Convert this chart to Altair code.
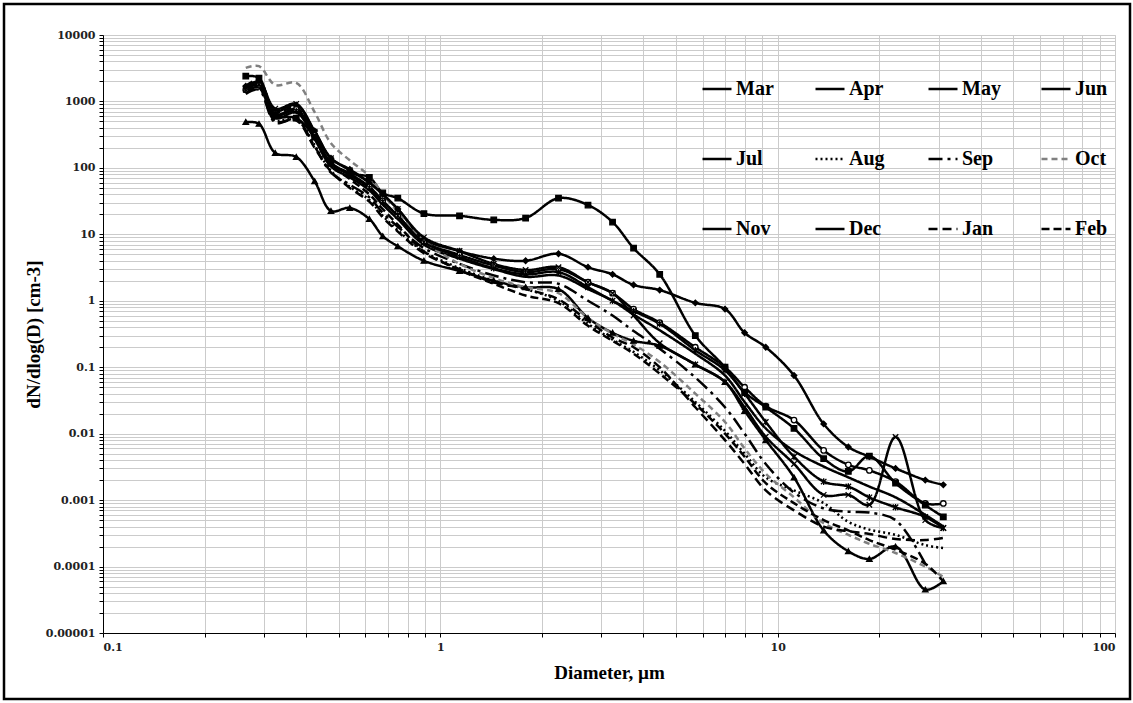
import altair as alt
import pandas as pd

# Particle diameter bin midpoints (um)
diam = [0.265, 0.29, 0.324, 0.374, 0.424, 0.474, 0.539, 0.616, 0.675, 0.748,
        0.894, 1.14, 1.44, 1.79, 2.24, 2.74, 3.24, 3.74, 4.47, 5.70,
        6.98, 7.98, 9.22, 11.18, 13.69, 16.2, 18.7, 22.36, 27.39, 30.98]

months = ["Mar", "Apr", "May", "Jun", "Jul", "Aug", "Sep", "Oct", "Nov", "Dec", "Jan", "Feb"]

mar = [1700, 1950, 720, 880, 360, 140, 95, 60, 40, 24, 8.5, 5.6, 4.3, 4.0, 5.1, 3.2, 2.5, 1.73, 1.45, 0.93,
       0.75, 0.33, 0.2, 0.075, 0.014, 0.0063, 0.0045, 0.003, 0.002, 0.0017]
apr = [1500, 1800, 640, 760, 310, 120, 82, 52, 32, 19, 7.8, 4.9, 3.4, 2.7, 3.0, 1.9, 1.3, 0.75, 0.47, 0.2,
       0.1, 0.05, 0.026, 0.016, 0.0056, 0.0034, 0.0028, 0.0019, 0.00089, 0.00089]
may = [2400, 2250, 620, 560, 290, 117, 83, 72, 42, 35, 20.5, 19, 16.5, 17.6, 35, 27.6, 15.3, 6.2, 2.5, 0.3,
       0.1, 0.042, 0.025, 0.012, 0.0042, 0.0027, 0.0046, 0.0018, 0.00084, 0.00056]
jun = [1400, 1650, 560, 680, 270, 105, 72, 46, 28, 17, 7.0, 4.3, 3.0, 2.3, 2.4, 1.5, 1.0, 0.62, 0.36, 0.16,
       0.075, 0.03, 0.012, 0.0055, 0.0032, 0.0022, 0.0016, 0.0011, 0.0006, 0.0004]
jul = [490, 460, 168, 146, 63, 22.5, 25, 17, 9.4, 6.6, 4.0, 2.8, 2.0, 1.6, 1.5, 0.55, 0.33, 0.25, 0.21, 0.11,
       0.06, 0.022, 0.008, 0.0022, 0.00035, 0.00017, 0.00013, 0.0002, 0.000045, 0.00006]
aug = [1500, 1700, 520, 560, 220, 90, 52, 33, 19, 11.5, 5.5, 3.1, 2.0, 1.5, 1.0, 0.45, 0.26, 0.17, 0.09, 0.03,
       0.011, 0.005, 0.0022, 0.0014, 0.0009, 0.00047, 0.00036, 0.0003, 0.00021, 0.00019]
sep = [1300, 1500, 480, 540, 210, 85, 56, 36, 21, 13, 6.2, 3.6, 2.4, 1.9, 1.8, 1.0, 0.6, 0.35, 0.19, 0.07,
       0.025, 0.01, 0.0035, 0.0013, 0.00075, 0.00067, 0.00065, 0.0005, 0.00011, None]
oct_ = [3200, 3400, 1770, 1900, 690, 235, 130, 75, 40, 22, 8, 3.6, 2.2, 1.6, 1.3, 0.55, 0.32, 0.22, 0.12, 0.04,
        0.015, 0.006, 0.0025, 0.0011, 0.00045, 0.0003, 0.00022, 0.00016, 0.0001, 0.00007]
nov = [1600, 2000, 780, 920, 350, 140, 92, 60, 40, 24, 9, 5.6, 3.6, 2.9, 3.2, 1.9, 1.3, 0.6, 0.23, 0.11,
       0.06, 0.025, 0.009, 0.0035, 0.0012, 0.0012, 0.00085, 0.0089, 0.0005, 0.00038]
dec = [1500, 1850, 620, 720, 290, 115, 78, 50, 31, 19, 7.6, 4.6, 3.1, 2.5, 2.7, 1.6, 1.0, 0.7, 0.45, 0.18,
       0.09, 0.04, 0.015, 0.0045, 0.0019, 0.0016, 0.0011, 0.00078, 0.00056, 0.00038]
jan = [1350, 1600, 500, 520, 200, 88, 50, 31, 18, 11, 5.2, 3.0, 1.9, 1.5, 1.05, 0.5, 0.28, 0.2, 0.1, 0.025,
       0.008, 0.0035, 0.0014, 0.0007, 0.0004, 0.00034, 0.00031, 0.00026, 0.00025, 0.00027]
feb = [1700, 2100, 700, 800, 300, 110, 68, 40, 24, 14, 5.5, 2.9, 1.8, 1.2, 0.92, 0.42, 0.25, 0.16, 0.08, 0.028,
       0.01, 0.0045, 0.0018, 0.0009, 0.0005, 0.00035, 0.00025, 0.00018, 0.00011, 0.00006]

series = [mar, apr, may, jun, jul, aug, sep, oct_, nov, dec, jan, feb]

rows = []
for m, vals in zip(months, series):
    for d, v in zip(diam, vals):
        if v is not None:
            rows.append({"month": m, "D": d, "N": v})
df = pd.DataFrame(rows)

# styles
colors = ["#000000"] * 7 + ["#808080"] + ["#000000"] * 4
widths = [2.5, 2.5, 2.5, 2.5, 2.5, 2.2, 2.5, 1.2, 2.2, 2.2, 2.6, 1.2]
dashes = [[1, 0], [1, 0], [1, 0], [1, 0], [1, 0], [2, 3], [14, 5, 3, 5], [6, 4],
          [1, 0], [1, 0], [9, 5], [8, 4]]

marker_months = ["Mar", "Apr", "May", "Jul", "Nov", "Dec"]
marker_shapes = ["diamond", "circle", "square", "triangle-up",
                 "M-1,-1L1,1M-1,1L1,-1",
                 "M-1,-1L1,1M-1,1L1,-1M0,-1.2L0,1.2"]
marker_fill = ["#000000", "#ffffff", "#000000", "#000000", "#000000", "#000000"]
marker_size = [30, 30, 60, 50, 40, 40]

xvals = [m * 10 ** e for e in range(-1, 2) for m in range(1, 10)] + [100]
yvals = [m * 10 ** e for e in range(-5, 4) for m in range(1, 10)] + [10000]
major_expr = ("abs(log(datum.value)/LN10 - round(log(datum.value)/LN10)) < 0.001 "
              "? format(datum.value, '~g') : ''")

leg = alt.Legend(title=None, orient="none", legendX=598, legendY=38, columns=4,
                 direction="horizontal",
                 symbolType="stroke", symbolSize=841, labelFont="Liberation Serif",
                 labelFontSize=20, labelFontWeight="bold", labelColor="#000000",
                 rowPadding=44, columnPadding=35, gridAlign="all", labelOffset=3,
                 padding=0, labelLimit=200)

xenc = alt.X("D:Q", scale=alt.Scale(type="log", domain=[0.1, 100], nice=False),
             axis=alt.Axis(values=xvals, labelExpr=major_expr, title="Diameter, µm",
                           grid=True, gridColor="#cbcbcb", gridWidth=1,
                           domainColor="#000000", tickColor="#000000", tickSize=4,
                           labelFont="DejaVu Serif", labelFontSize=11, labelFontWeight="bold",
                           labelColor="#222222", labelPadding=4, labelOverlap=False,
                           titleFont="Liberation Serif", titleFontSize=19,
                           titleFontWeight="bold", titleColor="#000000",
                           titleY=39, titleBaseline="middle"))
yenc = alt.Y("N:Q", scale=alt.Scale(type="log", domain=[0.00001, 10000], nice=False),
             axis=alt.Axis(values=yvals, labelExpr=major_expr, title="dN/dlog(D) [cm-3]",
                           grid=True, gridColor="#cbcbcb", gridWidth=1,
                           domainColor="#000000", tickColor="#000000", tickSize=4,
                           labelFont="DejaVu Serif", labelFontSize=11, labelFontWeight="bold",
                           labelColor="#222222", labelPadding=4, labelOverlap=False,
                           titleFont="Liberation Serif", titleFontSize=19,
                           titleFontWeight="bold", titleColor="#000000",
                           titleX=-70, titleY=299, titleAngle=-90,
                           titleAlign="center", titleBaseline="middle"))

base = alt.Chart(df)

lines = base.mark_line(interpolate="catmull-rom").encode(
    x=xenc, y=yenc,
    color=alt.Color("month:N", scale=alt.Scale(domain=months, range=colors), legend=leg),
    strokeDash=alt.StrokeDash("month:N", scale=alt.Scale(domain=months, range=dashes), legend=leg),
    strokeWidth=alt.StrokeWidth("month:N", scale=alt.Scale(domain=months, range=widths), legend=leg),
    order="D:Q",
)

points = base.transform_filter(
    alt.FieldOneOfPredicate(field="month", oneOf=marker_months)
).mark_point(filled=True, opacity=1, stroke="#000000", strokeWidth=1.3).encode(
    x="D:Q", y="N:Q",
    shape=alt.Shape("month:N", scale=alt.Scale(domain=marker_months, range=marker_shapes), legend=None),
    fill=alt.Fill("month:N", scale=alt.Scale(domain=marker_months, range=marker_fill), legend=None),
    size=alt.Size("month:N", scale=alt.Scale(domain=marker_months, range=marker_size), legend=None),
)

border = alt.Chart(pd.DataFrame({"a": [0]})).mark_rect(
    fill=None, stroke="#000000", strokeWidth=2.5
).encode(x=alt.value(-99), x2=alt.value(1027), y=alt.value(-31), y2=alt.value(664))

chart = alt.layer(lines, points, border).resolve_scale(
    shape="independent", fill="independent", size="independent"
).properties(
    width=1012, height=598,
    autosize=alt.AutoSizeParams(type="none"),
    padding={"left": 103, "top": 35, "right": 18, "bottom": 70},
).configure_view(stroke="#000000", strokeWidth=1).configure(background="white")

chart.save("out.html", embed_options={"renderer": "svg", "actions": False})
